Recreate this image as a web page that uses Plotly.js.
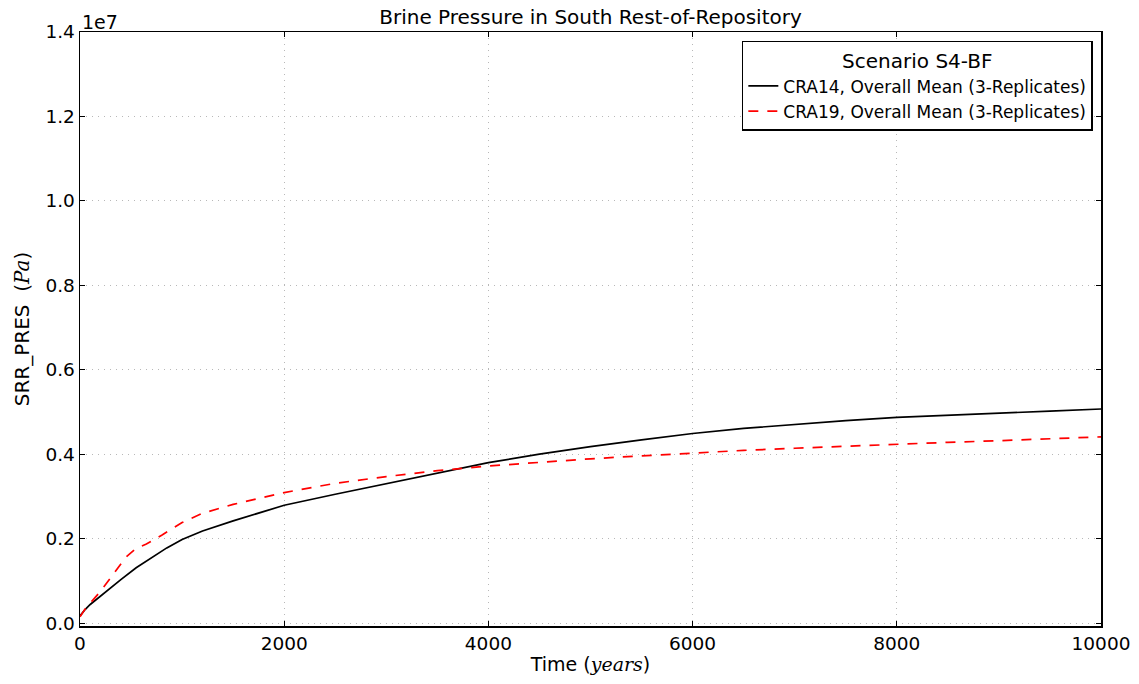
<!DOCTYPE html>
<html>
<head>
<meta charset="utf-8">
<script src="https://cdn.plot.ly/plotly-3.0.1.min.js"></script>
<style>html,body{margin:0;padding:0;background:#fff;}</style>
</head>
<body>
<div id="chart" style="width:1139px;height:684px;"></div>
<script>
// Time (years)
const timeCRA14 = [0, 50, 100, 200, 300, 400, 550, 700, 850, 1000, 1200, 1500, 2000, 2500, 3000, 3500, 4000, 4500, 5000, 5500, 6000, 6500, 7000, 7500, 8000, 8500, 9000, 9500, 10000];
// SRR_PRES (Pa)
const presCRA14 = [0.17e6, 0.32e6, 0.44e6, 0.64e6, 0.84e6, 1.03e6, 1.31e6, 1.55e6, 1.78e6, 1.98e6, 2.18e6, 2.42e6, 2.79e6, 3.05e6, 3.30e6, 3.56e6, 3.80e6, 4.00e6, 4.18e6, 4.34e6, 4.49e6, 4.61e6, 4.71e6, 4.795e6, 4.87e6, 4.925e6, 4.975e6, 5.02e6, 5.07e6];

const timeCRA19 = [0, 50, 100, 200, 300, 400, 450, 550, 650, 800, 1000, 1200, 1500, 2000, 2500, 3000, 3500, 4000, 4500, 5000, 5500, 6000, 6500, 7000, 7500, 8000, 8500, 9000, 9500, 10000];
const presCRA19 = [0.15e6, 0.33e6, 0.47e6, 0.75e6, 1.07e6, 1.38e6, 1.56e6, 1.77e6, 1.87e6, 2.08e6, 2.38e6, 2.60e6, 2.81e6, 3.09e6, 3.31e6, 3.47e6, 3.61e6, 3.72e6, 3.81e6, 3.89e6, 3.96e6, 4.03e6, 4.09e6, 4.14e6, 4.19e6, 4.24e6, 4.28e6, 4.32e6, 4.37e6, 4.41e6];

const seriesNames = ['CRA14, Overall Mean (3-Replicates)', 'CRA19, Overall Mean (3-Replicates)'];
const xTickVals = [0, 2000, 4000, 6000, 8000, 10000];
const xTickText = ['0', '2000', '4000', '6000', '8000', '10000'];
const yTickVals = [0, 0.2e7, 0.4e7, 0.6e7, 0.8e7, 1.0e7, 1.2e7, 1.4e7];
const yTickText = ['0.0', '0.2', '0.4', '0.6', '0.8', '1.0', '1.2', '1.4'];

const FONT = 'DejaVu Sans, sans-serif';
const MATH = "<span style=\"font-family:'DejaVu Serif',serif;font-style:italic\">";

const traces = [
  {x: timeCRA14, y: presCRA14, mode: 'lines', name: seriesNames[0],
   line: {color: '#000000', width: 1.7}},
  {x: timeCRA19, y: presCRA19, mode: 'lines', name: seriesNames[1],
   line: {color: '#ff0000', width: 1.7, dash: '10px,9px'}}
];

const axisCommon = {
  showline: true, linecolor: '#000', linewidth: 1.5, mirror: 'ticks',
  ticks: 'inside', ticklen: 5, tickwidth: 1, tickcolor: '#000',
  showgrid: true, gridcolor: '#b8b8b8', griddash: '1px,5px', gridwidth: 1,
  zeroline: false, tickfont: {family: FONT, size: 18.5, color: '#000'}
};

const layout = {
  width: 1139, height: 684,
  margin: {l: 80, r: 38, t: 32, b: 58},
  paper_bgcolor: '#fff', plot_bgcolor: '#fff',
  font: {family: FONT, color: '#000'},
  title: {text: 'Brine Pressure in South Rest-of-Repository', font: {family: FONT, size: 20, color: '#000'},
          x: 0.5, xref: 'paper', y: 0.975, yanchor: 'middle'},
  xaxis: Object.assign({}, axisCommon, {
    range: [0, 10000], tickmode: 'array', tickvals: xTickVals, ticktext: xTickText,
    title: {text: 'Time (' + MATH + 'years</span>)', font: {family: FONT, size: 19, color: '#000'}, standoff: 5}
  }),
  yaxis: Object.assign({}, axisCommon, {
    range: [-70000, 1.4e7], tickmode: 'array', tickvals: yTickVals, ticktext: yTickText,
    title: {text: 'SRR_PRES  (' + MATH + 'Pa</span>)', font: {family: FONT, size: 20, color: '#000'}, standoff: 10}
  }),
  showlegend: true,
  legend: {
    x: 0.992, xanchor: 'right', y: 0.985, yanchor: 'top',
    bgcolor: '#fff', bordercolor: '#000', borderwidth: 1.5,
    font: {family: FONT, size: 17, color: '#000'},
    title: {text: 'Scenario S4-BF', side: 'top center', font: {family: FONT, size: 20, color: '#000'}},
    tracegroupgap: 0, itemwidth: 30
  },
  annotations: [
    {text: '1e7', xref: 'paper', yref: 'paper', x: 0, y: 1, xanchor: 'left', yanchor: 'bottom',
     showarrow: false, font: {family: FONT, size: 19, color: '#000'}, xshift: 0, yshift: -3}
  ]
};

Plotly.newPlot('chart', traces, layout, {displayModeBar: false, staticPlot: true});
</script>
</body>
</html>
